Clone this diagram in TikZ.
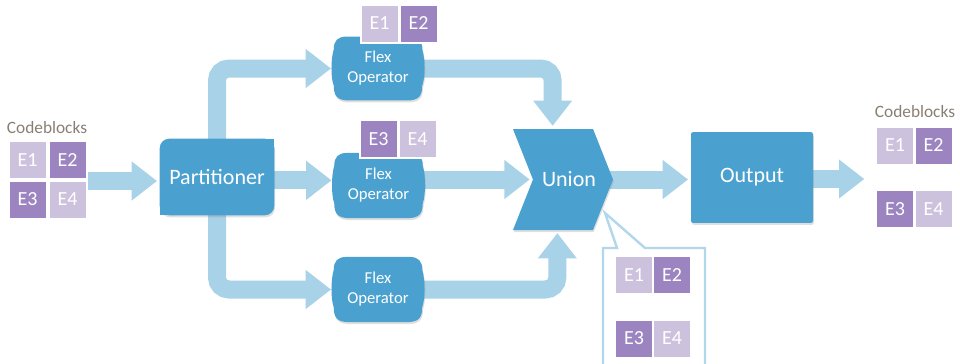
\documentclass[tikz,border=0pt]{standalone}
\usepackage{fontspec}
\setmainfont{Carlito}
\usetikzlibrary{arrows.meta,calc,backgrounds,shadows}

\definecolor{opblue}{HTML}{4AA1CF}
\definecolor{pipeblue}{HTML}{A8D2E8}
\definecolor{lilac}{HTML}{CDC2DE}
\definecolor{plum}{HTML}{9B84BF}
\definecolor{caption}{HTML}{8A7E73}

\tikzset{
  softshadow/.style={drop shadow={opacity=0.25, shadow xshift=0.6pt, shadow yshift=-1.5pt}},
  op/.style={fill=opblue, text=white, inner sep=0pt, softshadow},
  holder/.style={inner sep=0pt},
  bigtext/.style={font=\fontsize{16.5}{19}\selectfont},
  flextext/.style={text=white, font=\fontsize{12.5}{15}\selectfont, align=center},
  cell/.style={minimum size=28.5pt, inner sep=0pt, draw=white, line width=1.5pt,
    text=white, font=\fontsize{15}{17}\selectfont},
  lightcell/.style={cell, fill=lilac},
  darkcell/.style={cell, fill=plum},
  caplabel/.style={text=caption, font=\fontsize{13}{15}\selectfont, inner sep=0pt},
  pipe/.style={draw=pipeblue, line width=13.5pt, rounded corners=9pt,
    -{Triangle[length=19pt, width=28pt]}, shorten >=2pt},
  callout/.style={draw=pipeblue!90!white, line width=1.8pt, line join=miter},
}

% operator body with rounded corners and slightly bowed sides
\newcommand{\flexbody}[1]{%
  \fill[opblue, softshadow]
    ($(#1.north west)+(13,0)$) -- ($(#1.north east)+(-13,0)$)
    .. controls ($(#1.north east)+(-4,0)$) and ($(#1.north east)+(0,4)$) .. ($(#1.north east)+(0,13)$)
    .. controls ($(#1.east)+(3,-10)$) and ($(#1.east)+(3,10)$) .. ($(#1.south east)+(0,-15)$)
    .. controls ($(#1.south east)+(0,-4)$) and ($(#1.south east)+(-4,0)$) .. ($(#1.south east)+(-15,0)$)
    -- ($(#1.south west)+(15,0)$)
    .. controls ($(#1.south west)+(4,0)$) and ($(#1.south west)+(0,-4)$) .. ($(#1.south west)+(0,-15)$)
    .. controls ($(#1.west)+(-3,10)$) and ($(#1.west)+(-3,-10)$) .. ($(#1.north west)+(0,13)$)
    .. controls ($(#1.north west)+(0,4)$) and ($(#1.north west)+(4,0)$) .. ($(#1.north west)+(13,0)$)
    -- cycle;}

\begin{document}
\begin{tikzpicture}[x=0.75pt, y=-0.75pt]
  \useasboundingbox (0,0) rectangle (960,364);

  % incoming code blocks
  \node[caplabel] (capL) at (47,128) {Codeblocks};
  \node[lightcell] (l1) at (27.5,160) {E1};
  \node[darkcell]  (l2) at (67.5,160) {E2};
  \node[darkcell]  (l3) at (27.5,199.5) {E3};
  \node[lightcell] (l4) at (67.5,199.5) {E4};
  \coordinate (inL) at (88,181);

  % partitioner (two diagonal corners rounded)
  \node[holder, minimum width=85.5pt, minimum height=57pt] (part) at (217,177) {};
  \fill[opblue, rounded corners=7pt, softshadow]
    (part.north west) rectangle (part.south east);
  \fill[opblue] (part.north east) rectangle ++(-14,14);
  \fill[opblue] (part.south west) rectangle ++(14,-14);
  \node[text=white, bigtext] at (part) {Partitioner};

  % flex operators
  \node[holder, minimum width=66pt, minimum height=47.5pt] (fop1) at (378,68.5) {};
  \node[holder, minimum width=66pt, minimum height=48.5pt] (fop2) at (378.5,185.5) {};
  \node[holder, minimum width=66pt, minimum height=48.5pt] (fop3) at (378,289.5) {};
  \flexbody{fop1}
  \flexbody{fop2}
  \flexbody{fop3}
  \node[flextext] at (fop1) {Flex\\Operator};
  \node[flextext] at (fop2) {Flex\\Operator};
  \node[flextext] at (fop3) {Flex\\Operator};

  % code blocks held by the operators
  \node[lightcell] (a1) at (379.5,23.5) {E1};
  \node[darkcell]  (a2) at (418.5,23.5) {E2};
  \node[darkcell]  (b3) at (378.5,139) {E3};
  \node[lightcell] (b4) at (417.5,139) {E4};

  % union chevron
  \node[holder, minimum width=75pt, minimum height=76pt] (union) at (568,179.5) {};
  \fill[opblue, softshadow]
    ($(union)+(-55,-50.5)$) -- ($(union)+(25,-50.5)$) -- ($(union)+(45,0)$)
    -- ($(union)+(25,50.5)$) -- ($(union)+(-55,50.5)$) -- ($(union)+(-35,0)$) -- cycle;
  \node[text=white, bigtext] at ($(union)+(1,0)$) {Union};

  % output
  \node[op, rounded corners=1.5pt, minimum width=91.5pt, minimum height=68pt, bigtext]
    (out) at (752,177.5) {Output};

  % outgoing code blocks
  \node[caplabel] (capR) at (915,112) {Codeblocks};
  \node[lightcell] (r1) at (895,145.5) {E1};
  \node[darkcell]  (r2) at (933.5,145.5) {E2};
  \node[darkcell]  (r3) at (895,209) {E3};
  \node[lightcell] (r4) at (933.5,209) {E4};
  \coordinate (outR) at (867,179);

  % callout showing the merged stream
  \coordinate (ctip) at (605,213);
  \begin{scope}
    \clip (0,0) rectangle (960,364);
    \fill[white] (603,372) -- (603,248) -- (617,248) -- (ctip) -- (645,248)
      -- (705,248) -- (705,372) -- cycle;
    \draw[callout] (603,372) -- (603,248) -- (617,248) -- (ctip) -- (645,248)
      -- (705,248) -- (705,372);
  \end{scope}
  \node[lightcell] (c1) at (634,275) {E1};
  \node[darkcell]  (c2) at (672,275) {E2};
  \node[darkcell]  (c3) at (634,338.5) {E3};
  \node[lightcell] (c4) at (672,338.5) {E4};

  % flow pipes
  \begin{scope}[on background layer]
    \draw[pipe] (inL) -- (inL -| part.west);
    \draw[pipe] (part.center) |- (fop1.west);
    \draw[pipe] (part.center) |- (fop3.west);
    \draw[pipe] ([yshift=-2.5pt]part.east) -- ([yshift=-2.5pt]part.east -| fop2.west);
    \draw[pipe] (fop1.east) -| ([xshift=-11.5pt]union.north);
    \draw[pipe] (fop3.east) -| ([xshift=-8pt]union.south);
    \draw[pipe] (fop2.east |- union.west) -- ([xshift=11pt]union.west);
    \draw[pipe] ([xshift=-15pt]union.east) -- (union.east -| out.west);
    \draw[pipe] (out.east |- outR) -- (outR);
  \end{scope}
\end{tikzpicture}
\end{document}
